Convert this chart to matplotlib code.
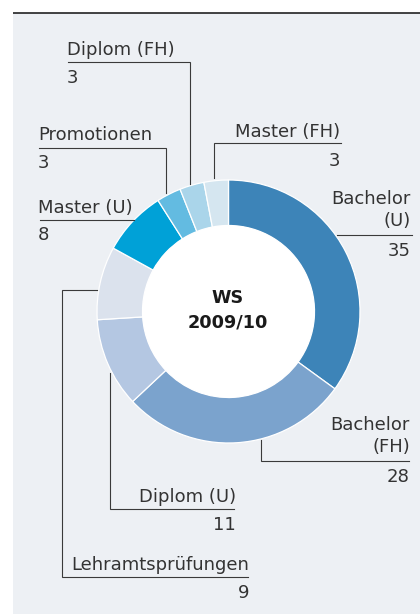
import matplotlib
matplotlib.use("Agg")
import matplotlib.pyplot as plt
from matplotlib.patches import Rectangle, Circle

# ---- data ----
categories = ["Bachelor (U)", "Bachelor (FH)", "Diplom (U)", "Lehramtsprüfungen",
              "Master (U)", "Promotionen", "Diplom (FH)", "Master (FH)"]
values = [35, 28, 11, 9, 8, 3, 3, 3]
center_title = ["WS", "2009/10"]

# ---- style ----
colors = ["#3d84b8", "#7ba3cd", "#b4c7e2", "#dbe2ed",
          "#00a1d7", "#63bbe1", "#aad5ea", "#d5e6f0"]
panel_color = "#edf0f4"
text_color = "#333333"
line_color = "#3a3a3a"
FS = 13

W, H = 420, 614
fig = plt.figure(figsize=(W / 100, H / 100), dpi=100)
ax = fig.add_axes([0, 0, 1, 1])
ax.set_axis_off()

# background panel
ax.add_patch(Rectangle((13, 13), W - 13, H - 13, facecolor=panel_color, edgecolor="none", zorder=0))

# donut (y axis inverted -> startangle -90 & counterclock=True gives clockwise from top)
cx, cy, R, ring = 228.5, 311.5, 131.5, 45.5
ax.pie(values, colors=colors, startangle=-90, counterclock=True,
       center=(cx, cy), radius=R,
       wedgeprops=dict(width=ring, edgecolor="white", linewidth=0.9))
ax.add_patch(Circle((cx, cy), R - ring, facecolor="white", edgecolor="none", zorder=3))

ax.set_xlim(0, W)
ax.set_ylim(H, 0)
ax.set_aspect("auto")

# top rule
ax.plot([13, W], [12.5, 12.5], color="#222222", lw=1.2, solid_capstyle="butt", zorder=4)

# center text
ax.text(cx - 1, 303, center_title[0], ha="center", va="baseline", fontsize=12.7,
        fontweight="bold", color="#1a1a1a", zorder=5)
ax.text(cx - 1, 327.5, center_title[1], ha="center", va="baseline", fontsize=12.7,
        fontweight="bold", color="#1a1a1a", zorder=5)

lw = 0.8

def path(pts):
    xs, ys = zip(*pts)
    ax.plot(xs, ys, color=line_color, lw=lw, solid_joinstyle="miter", zorder=4)

def lbl(x, y, s, ha):
    ax.text(x, y, s, ha=ha, va="baseline", fontsize=FS, color=text_color, zorder=5)

name = dict(zip(categories, values))

# Diplom (FH)
lbl(67, 55, "Diplom (FH)", "left")
lbl(67, 83, str(name["Diplom (FH)"]), "left")
path([(68, 62.3), (190, 62.3), (190, 184)])

# Promotionen
lbl(38, 140, "Promotionen", "left")
lbl(38, 168, str(name["Promotionen"]), "left")
path([(39, 148), (166, 148), (166, 193)])

# Master (U)
lbl(38, 212.7, "Master (U)", "left")
lbl(38, 240, str(name["Master (U)"]), "left")
path([(40, 220), (134, 220)])

# Master (FH)
lbl(340, 136.7, "Master (FH)", "right")
lbl(340, 165.7, str(name["Master (FH)"]), "right")
path([(214, 178), (214, 143), (341, 143)])

# Bachelor (U)
lbl(411, 204, "Bachelor", "right")
lbl(411, 226.5, "(U)", "right")
lbl(411, 255.7, str(name["Bachelor (U)"]), "right")
path([(337, 235), (412, 235)])

# Bachelor (FH)
lbl(410, 430, "Bachelor", "right")
lbl(410, 452, "(FH)", "right")
lbl(410, 481.7, str(name["Bachelor (FH)"]), "right")
path([(261, 440), (261, 461), (409, 461)])

# Diplom (U)
lbl(236, 501.7, "Diplom (U)", "right")
lbl(236, 530, str(name["Diplom (U)"]), "right")
path([(110, 373), (110, 509), (234, 509)])

# Lehramtsprüfungen
lbl(249, 570, "Lehramtsprüfungen", "right")
lbl(249, 597.7, str(name["Lehramtsprüfungen"]), "right")
path([(97, 290), (62, 290), (62, 577), (248, 577)])

fig.savefig("out.png", dpi=100, facecolor="white")
